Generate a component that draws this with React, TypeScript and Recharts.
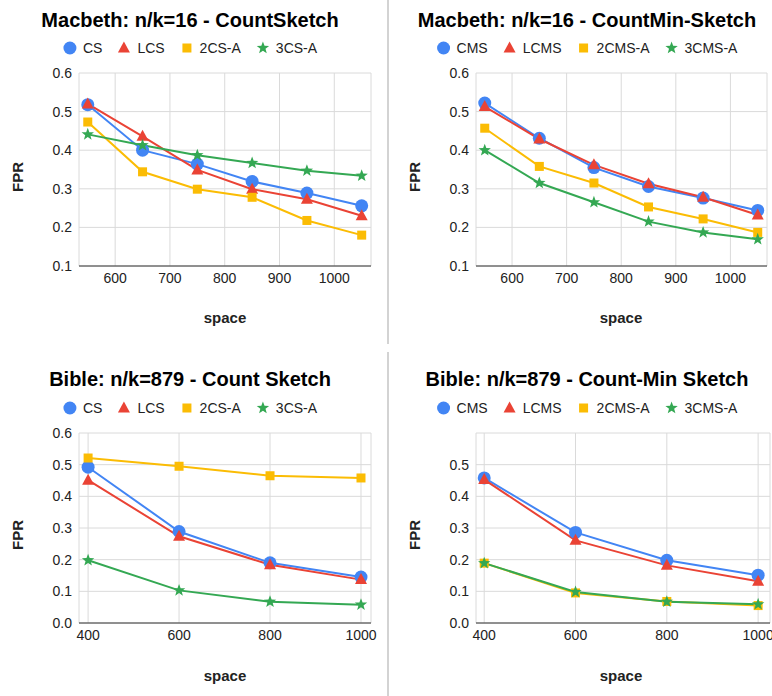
import { CartesianGrid, Line, LineChart, XAxis, YAxis } from "recharts";

const FONT = '"Liberation Sans", Arial, Helvetica, sans-serif';
const COLORS = ["#4285f4", "#ea4335", "#fbbc04", "#34a853"];
const SHAPES = ["circle", "triangle", "square", "star"];

// x values
const macbethSpace = [550, 650, 750, 850, 950, 1050];
const bibleSpace = [400, 600, 800, 1000];

// series names
const csNames = ["CS", "LCS", "2CS-A", "3CS-A"];
const cmsNames = ["CMS", "LCMS", "2CMS-A", "3CMS-A"];

// Macbeth, Count Sketch
const macbethCS = [0.518, 0.4, 0.364, 0.319, 0.289, 0.256];
const macbethLCS = [0.52, 0.436, 0.349, 0.299, 0.273, 0.23];
const macbeth2CS = [0.473, 0.344, 0.299, 0.278, 0.218, 0.18];
const macbeth3CS = [0.441, 0.413, 0.387, 0.367, 0.347, 0.334];

// Macbeth, Count-Min Sketch
const macbethCMS = [0.522, 0.431, 0.355, 0.306, 0.276, 0.244];
const macbethLCMS = [0.513, 0.429, 0.362, 0.313, 0.278, 0.232];
const macbeth2CMS = [0.457, 0.358, 0.315, 0.253, 0.222, 0.187];
const macbeth3CMS = [0.4, 0.315, 0.265, 0.215, 0.187, 0.169];

// Bible, Count Sketch
const bibleCS = [0.492, 0.289, 0.19, 0.145];
const bibleLCS = [0.451, 0.274, 0.184, 0.137];
const bible2CS = [0.521, 0.495, 0.465, 0.458];
const bible3CS = [0.198, 0.103, 0.067, 0.058];

// Bible, Count-Min Sketch
const bibleCMS = [0.458, 0.286, 0.198, 0.151];
const bibleLCMS = [0.453, 0.261, 0.182, 0.132];
const bible2CMS = [0.189, 0.095, 0.068, 0.055];
const bible3CMS = [0.189, 0.098, 0.067, 0.059];

const macbethYTicks = [0.1, 0.2, 0.3, 0.4, 0.5, 0.6];
const bibleCsYTicks = [0, 0.1, 0.2, 0.3, 0.4, 0.5, 0.6];
const bibleCmsYTicks = [0, 0.1, 0.2, 0.3, 0.4, 0.5];
const macbethXTicks = [600, 700, 800, 900, 1000];
const bibleXTicks = [400, 600, 800, 1000];

function Marker({ shape, cx, cy, color }: any) {
  if (shape === "circle") return <circle cx={cx} cy={cy} r={6.5} fill={color} />;
  if (shape === "triangle") {
    const pts = `${cx},${cy - 6.5} ${cx + 6},${cy + 4.5} ${cx - 6},${cy + 4.5}`;
    return <polygon points={pts} fill={color} />;
  }
  if (shape === "square") return <rect x={cx - 4.5} y={cy - 4.5} width={9} height={9} fill={color} />;
  const pts: string[] = [];
  for (let i = 0; i < 10; i++) {
    const r = i % 2 === 0 ? 6.5 : 2.7;
    const a = (Math.PI / 5) * i - Math.PI / 2;
    pts.push(`${cx + r * Math.cos(a)},${cy + r * Math.sin(a)}`);
  }
  return <polygon points={pts.join(" ")} fill={color} />;
}

function Legend({ names }: { names: string[] }) {
  return (
    <div style={{ display: "flex", alignItems: "center", fontSize: 14, color: "#222" }}>
      {names.map((n, i) => (
        <div key={n} style={{ display: "flex", alignItems: "center", marginRight: i < names.length - 1 ? 15 : 0 }}>
          <svg width={14} height={14} style={{ marginRight: 6 }}>
            <Marker shape={SHAPES[i]} cx={7} cy={7} color={COLORS[i]} />
          </svg>
          <span>{n}</span>
        </div>
      ))}
    </div>
  );
}

function Centered({ x, y, children, style }: any) {
  return (
    <div
      style={{
        position: "absolute",
        left: x,
        top: y,
        transform: "translate(-50%, -50%)",
        whiteSpace: "nowrap",
        ...style,
      }}
    >
      {children}
    </div>
  );
}

function Panel(props: any) {
  const { left, top, height, title, names, space, series, xDomain, xTicks, yDomain, yTicks, margin, cx, titleY, legendY, fprX, fprY, spaceX, spaceY } = props;
  const data = space.map((s: number, i: number) => {
    const row: any = { space: s };
    series.forEach((vals: number[], k: number) => (row[names[k]] = vals[i]));
    return row;
  });
  return (
    <div style={{ position: "absolute", left, top, width: 386, height }}>
      <LineChart width={386} height={height} data={data} margin={margin}>
        <CartesianGrid stroke="#dadada" />
        <XAxis
          type="number"
          dataKey="space"
          domain={xDomain}
          ticks={xTicks}
          interval={0}
          tickLine={false}
          tickSize={0}
          tickMargin={7}
          height={30}
          axisLine={{ stroke: "#333" }}
          tick={{ fontSize: 14, fill: "#222", fontFamily: FONT }}
        />
        <YAxis
          type="number"
          domain={yDomain}
          ticks={yTicks}
          interval={0}
          width={60}
          tickLine={false}
          tickSize={0}
          tickMargin={7}
          axisLine={false}
          tickFormatter={(v: number) => v.toFixed(1)}
          tick={{ fontSize: 14, fill: "#222", fontFamily: FONT }}
        />
        {names.map((n: string, k: number) => (
          <Line
            key={n}
            dataKey={n}
            stroke={COLORS[k]}
            strokeWidth={2}
            isAnimationActive={false}
            dot={(p: any) => (
              <Marker key={`${n}-${p.index}`} shape={SHAPES[k]} cx={p.cx} cy={p.cy} color={COLORS[k]} />
            )}
            activeDot={false}
          />
        ))}
      </LineChart>
      <Centered x={cx} y={titleY} style={{ fontSize: 20, fontWeight: "bold", color: "#000" }}>
        {title}
      </Centered>
      <Centered x={cx} y={legendY}>
        <Legend names={names} />
      </Centered>
      <Centered x={fprX} y={fprY} style={{ fontSize: 15, fontWeight: "bold", color: "#222", transform: "translate(-50%, -50%) rotate(-90deg)" }}>
        FPR
      </Centered>
      <Centered x={spaceX} y={spaceY} style={{ fontSize: 15, fontWeight: "bold", color: "#222" }}>
        space
      </Centered>
    </div>
  );
}

export default function App() {
  return (
    <div
      style={{
        position: "absolute",
        left: 0,
        top: 0,
        width: 772,
        height: 696,
        overflow: "hidden",
        background: "#fff",
        fontFamily: FONT,
      }}
    >
      <Panel
        left={0}
        top={0}
        height={345}
        title="Macbeth: n/k=16 - CountSketch"
        names={csNames}
        space={macbethSpace}
        series={[macbethCS, macbethLCS, macbeth2CS, macbeth3CS]}
        xDomain={[534, 1067]}
        xTicks={macbethXTicks}
        yDomain={[0.1, 0.6]}
        yTicks={macbethYTicks}
        margin={{ top: 73, right: 15, bottom: 49, left: 19 }}
        cx={190}
        titleY={19.5}
        legendY={47.7}
        fprX={17}
        fprY={177}
        spaceX={225}
        spaceY={317}
      />
      <Panel
        left={386}
        top={0}
        height={345}
        title="Macbeth: n/k=16 - CountMin-Sketch"
        names={cmsNames}
        space={macbethSpace}
        series={[macbethCMS, macbethLCMS, macbeth2CMS, macbeth3CMS]}
        xDomain={[534, 1067]}
        xTicks={macbethXTicks}
        yDomain={[0.1, 0.6]}
        yTicks={macbethYTicks}
        margin={{ top: 73, right: 5, bottom: 49, left: 30 }}
        cx={201}
        titleY={19.5}
        legendY={47.7}
        fprX={27.5}
        fprY={177}
        spaceX={235}
        spaceY={317}
      />
      <Panel
        left={0}
        top={345}
        height={351}
        title="Bible: n/k=879 - Count Sketch"
        names={csNames}
        space={bibleSpace}
        series={[bibleCS, bibleLCS, bible2CS, bible3CS]}
        xDomain={[380, 1022]}
        xTicks={bibleXTicks}
        yDomain={[0, 0.6]}
        yTicks={bibleCsYTicks}
        margin={{ top: 88, right: 15, bottom: 43, left: 19 }}
        cx={190}
        titleY={34}
        legendY={62.5}
        fprX={17}
        fprY={190}
        spaceX={225}
        spaceY={330}
      />
      <Panel
        left={386}
        top={345}
        height={351}
        title="Bible: n/k=879 - Count-Min Sketch"
        names={cmsNames}
        space={bibleSpace}
        series={[bibleCMS, bibleLCMS, bible2CMS, bible3CMS]}
        xDomain={[382, 1026]}
        xTicks={bibleXTicks}
        yDomain={[0, 0.6]}
        yTicks={bibleCmsYTicks}
        margin={{ top: 88, right: 2, bottom: 43, left: 30 }}
        cx={201}
        titleY={34}
        legendY={62.5}
        fprX={27.5}
        fprY={190}
        spaceX={235}
        spaceY={330}
      />
      <div style={{ position: "absolute", left: 387, top: 0, width: 2, height: 344, background: "#d3d3d3" }} />
      <div style={{ position: "absolute", left: 387, top: 352, width: 2, height: 344, background: "#d3d3d3" }} />
    </div>
  );
}
